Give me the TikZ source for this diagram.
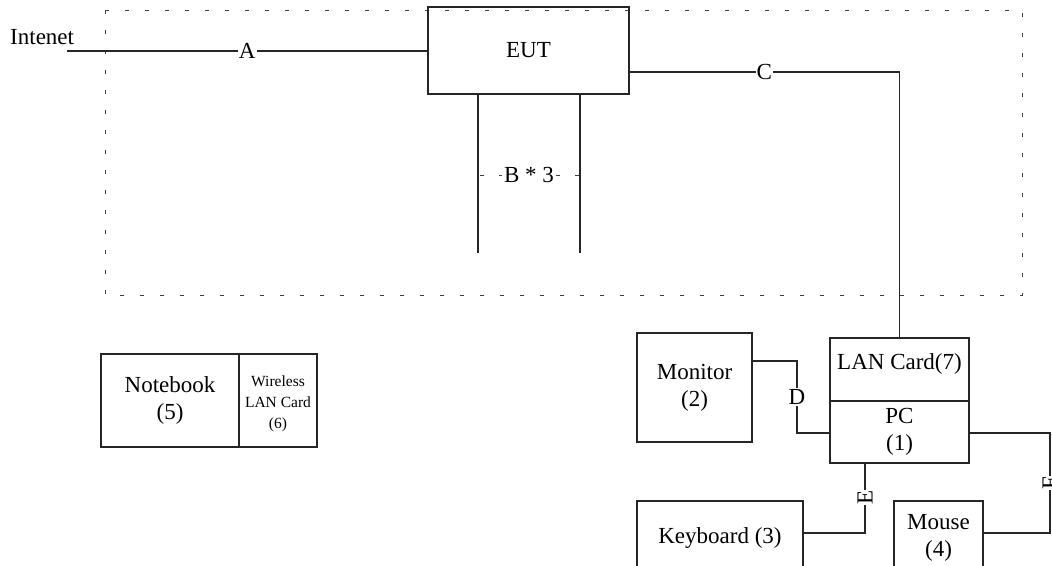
\documentclass[tikz,border=0pt]{standalone}
\usepackage{fontspec}
\setmainfont{Liberation Serif}
\begin{document}
\begin{tikzpicture}[x=1pt,y=-1pt,
  every node/.style={font=\fontsize{23}{27}\selectfont},
  box/.style={draw=black!85,line width=1.1pt,inner sep=0pt,align=center},
  wire/.style={draw=black!85,line width=1.3pt},
  lbl/.style={fill=white,inner sep=1pt},
  dotline/.style={draw=black!75,line width=1pt,dash pattern=on 4pt off 16pt},
  bline/.style={draw=black!75,line width=1pt,dash pattern=on 4pt off 15pt,dash phase=17pt}]
\useasboundingbox (0,0) rectangle (1052,565);
% dotted enclosure
\draw[dotline] (105,10) rectangle (1022,295);
% boxes
\node[box,minimum width=201pt,minimum height=87pt] (eut) at (528.5,50.5) {EUT};
\node[box,minimum width=139pt,minimum height=63pt] (lan) at (899.5,369.5) {};
\node (lantxt) at ([yshift=6pt]lan.center) {LAN Card(7)};
\node[box,minimum width=139pt,minimum height=62pt] (pc) at (899.5,432) {PC\\(1)};
\node[box,minimum width=115pt,minimum height=109pt] (mon) at (694.5,387.5) {Monitor\\(2)};
\node[box,minimum width=166pt,minimum height=74pt] (kb) at (720,538) {Keyboard (3)};
\node[box,minimum width=89pt,minimum height=74pt] (mouse) at (938.5,538) {Mouse\\(4)};
\node[box,minimum width=138pt,minimum height=93pt] (nb) at (170,400.5) {Notebook\\(5)};
\node[box,minimum width=78pt,minimum height=93pt] (wl) at (278,400.5) {};
\node[font=\fontsize{15.5}{21}\selectfont,align=center] (wltxt) at ([yshift=-3pt]wl.center) {Wireless\\LAN Card\\(6)};
% internet
\node[anchor=base west,inner sep=0pt] (inet) at (10,44) {Intenet};
\coordinate (ia) at (67,51);
\draw[wire] (ia) -- node[lbl]{A} (ia -| eut.west);
% C
\coordinate (cc) at (629,72);
\draw[wire] (cc) -- node[lbl]{C} (cc -| lan.north) -- (lan.north);
% B lines
\coordinate (b1) at (478,253);
\coordinate (b2) at (580,253);
\coordinate (bm) at (529,175);
\draw[wire] (b1 |- eut.south) -- (b1);
\draw[wire] (b2 |- eut.south) -- (b2);
\draw[bline] (b1 |- bm) -- (b2 |- bm);
\node[lbl,inner sep=2pt] (blbl) at (bm) {B * 3};
% D
\coordinate (dtop) at (797,361);
\coordinate (dbot) at (797,433);
\draw[wire] (mon.east |- dtop) -- (dtop) -- node[lbl]{D} (dbot) -- (dbot -| pc.west);
% E
\coordinate (ec) at (865,533);
\draw[wire] (pc.south -| ec) -- node[lbl,rotate=90,pos=0.49,inner sep=0.5pt]{E} (ec) -- (ec -| kb.east);
% F
\coordinate (f1) at (1050,433);
\coordinate (f2) at (1050,533);
\draw[wire] (pc.east |- f1) -- (f1) -- node[lbl,rotate=90,inner sep=0.5pt]{F} (f2) -- (f2 -| mouse.east);
\end{tikzpicture}
\end{document}
